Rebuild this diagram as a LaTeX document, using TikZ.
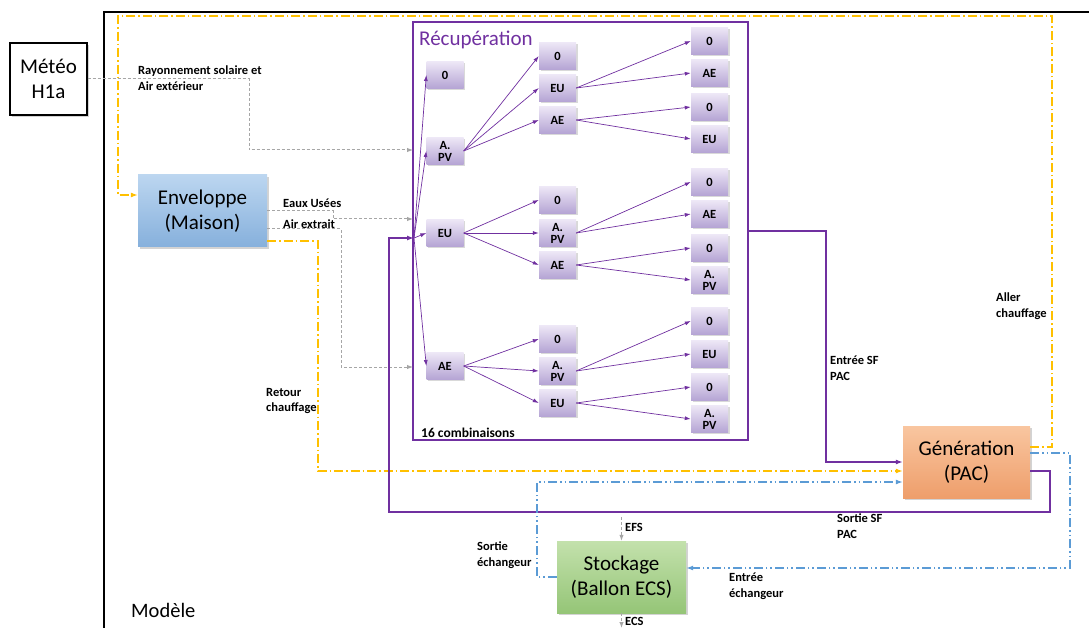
\documentclass[tikz,border=0pt]{standalone}
\usepackage{fontspec}
\setmainfont{Carlito}
\usetikzlibrary{arrows.meta,shadows,calc}
\definecolor{purp}{HTML}{7030A0}
\definecolor{goldl}{HTML}{FFC000}
\definecolor{bluel}{HTML}{5B9BD5}
\definecolor{grayl}{HTML}{A6A6A6}
\definecolor{envtop}{HTML}{BCD6F0}
\definecolor{envbot}{HTML}{86B0DC}
\definecolor{gentop}{HTML}{F9C6A0}
\definecolor{genbot}{HTML}{EE9E6B}
\definecolor{sttop}{HTML}{C3E1AC}
\definecolor{stbot}{HTML}{95C577}
\definecolor{smtop}{HTML}{EDE7F6}
\definecolor{smbot}{HTML}{B5A4D4}
\tikzset{
  bigbox/.style={minimum width=129pt, minimum height=72pt, inner sep=0pt, align=center,
    font=\fontsize{21}{25}\selectfont, shading=axis, shading angle=0,
    drop shadow={shadow xshift=2pt, shadow yshift=-2pt, opacity=0.35}},
  smbox/.style={minimum width=37pt, minimum height=27pt, inner sep=0pt, align=center,
    font=\bfseries\fontsize{12.5}{12}\selectfont, top color=smtop, bottom color=smbot,
    drop shadow={shadow xshift=1.5pt, shadow yshift=-1.5pt, opacity=0.3}},
  lbl/.style={font=\bfseries\fontsize{12.5}{15.5}\selectfont, align=left, inner sep=0pt},
  pa/.style={draw=purp, line width=0.7pt, -{Latex[length=6pt,width=4pt]}},
  pline/.style={draw=purp, line width=1.3pt, -{Latex[length=7pt,width=5pt]}},
  gline/.style={draw=grayl, line width=1pt, dash pattern=on 3pt off 2pt, -{Latex[length=6pt,width=4.5pt]}},
  yline/.style={draw=goldl, line width=1.3pt, dash pattern=on 9pt off 3pt on 1.5pt off 3pt, -{Latex[length=7pt,width=5pt]}},
  bline/.style={draw=bluel, line width=1.3pt, dash pattern=on 9pt off 3pt on 1.5pt off 3pt on 1.5pt off 3pt, -{Latex[length=7pt,width=5pt]}},
}
\begin{document}
\begin{tikzpicture}[x=1pt,y=-1pt]
\useasboundingbox (0,0) rectangle (1089,628);
% outer model frame
\draw[line width=1.5pt] (104,628) -- (104,12) -- (1089,12);
\node[anchor=west, font=\fontsize{20.5}{24}\selectfont, inner sep=0pt] (modele) at (131,610) {Modèle};

% main blocks
\node[bigbox, minimum width=77pt, draw=black, line width=1.3pt, top color=white, bottom color=white] (met) at (48.5,79) {Météo\\H1a};
\node[bigbox, top color=envtop, bottom color=envbot] (env) at (202.5,211) {Enveloppe\\(Maison)};
\node[bigbox, minimum width=127pt, top color=gentop, bottom color=genbot] (gen) at (966.5,462) {Génération\\(PAC)};
\node[bigbox, top color=sttop, bottom color=stbot] (stock) at (621.5,577) {Stockage\\(Ballon ECS)};

% Récupération frame
\node[draw=purp, line width=1.5pt, minimum width=335pt, minimum height=418pt, inner sep=0pt] (recup) at (580.5,231) {};
\node[anchor=west, text=purp, font=\fontsize{21}{25}\selectfont, inner sep=0pt] (rtitle) at (419,40) {Récupération};
\node[anchor=west, font=\bfseries\fontsize{13.5}{16}\selectfont, inner sep=0pt] (comb) at (421,433) {16 combinaisons};

% level 1
\node[smbox] (n0) at (445,75) {0};
\node[smbox] (npv) at (445,151) {A.\\PV};
\node[smbox] (neu) at (445,233) {EU};
\node[smbox] (nae) at (445,366) {AE};
% level 2
\node[smbox] (a0) at (557.5,56) {0};
\node[smbox] (aeu) at (557.5,88) {EU};
\node[smbox] (aae) at (557.5,120) {AE};
\node[smbox] (b0) at (557.5,200) {0};
\node[smbox] (bpv) at (557.5,233) {A.\\PV};
\node[smbox] (bae) at (557.5,265) {AE};
\node[smbox] (c0) at (557.5,339) {0};
\node[smbox] (cpv) at (557.5,371) {A.\\PV};
\node[smbox] (ceu) at (557.5,403) {EU};
% level 3
\node[smbox] (d1) at (709.5,41) {0};
\node[smbox] (d2) at (709.5,73) {AE};
\node[smbox] (d3) at (709.5,107) {0};
\node[smbox] (d4) at (709.5,139) {EU};
\node[smbox] (e1) at (709.5,182) {0};
\node[smbox] (e2) at (709.5,214) {AE};
\node[smbox] (e3) at (709.5,248) {0};
\node[smbox] (e4) at (709.5,280) {A.\\PV};
\node[smbox] (f1) at (709.5,321) {0};
\node[smbox] (f2) at (709.5,354) {EU};
\node[smbox] (f3) at (709.5,387) {0};
\node[smbox] (f4) at (709.5,419) {A.\\PV};

% fan
\coordinate (fan) at (414,238);
\foreach \t in {n0,npv,neu,nae} \draw[pa] (fan) -- (\t.west);
\foreach \s/\t in {npv/a0,npv/aeu,npv/aae,neu/b0,neu/bpv,neu/bae,nae/c0,nae/cpv,nae/ceu,
  aeu/d1,aeu/d2,aae/d3,aae/d4,bpv/e1,bpv/e2,bae/e3,bae/e4,cpv/f1,cpv/f2,ceu/f3,ceu/f4}
  \draw[pa] (\s.east) -- (\t.west);

% gray inputs
\coordinate (rin1) at (413,150);
\coordinate (rin2) at (413,219);
\coordinate (rin3) at (413,367);
\draw[gline] (met.east) -| (249,150) -- (rin1);
\draw[gline] (env.east) -- (333,211) -- (333,219) -- (rin2);
\draw[gline] ($(env.east)+(0,18)$) -- (341,229) -- (341,367) -- (rin3);
\coordinate (efs) at (621.5,517);
\coordinate (ecs) at (621.5,628);
\draw[gline] (efs) -- (stock.north);
\draw[gline] (stock.south) -- (ecs);

% heating loop (gold)
\draw[yline] ($(gen.east)+(0,-15)$) -- (1052,447) -- (1052,16) -- (118,16) -- (118,195) -- ($(env.west)+(0,-16)$);
\draw[yline] ($(env.east)+(0,30)$) -- (318,241) -- (318,471) -- ($(gen.west)+(0,9)$);

% purple SF loop
\draw[pline] (recup.east) -- (826,231) -- (826,462) -- (gen.west);
\draw[pline] ($(gen.east)+(0,9)$) -- (1050,471) -- (1050,512) -- (389,512) -- (389,238) -- (fan);

% blue exchanger loop
\draw[bline] ($(gen.east)+(0,-9)$) -- (1070,453) -- (1070,568) -- ($(stock.east)+(0,-9)$);
\draw[bline] (stock.west) -- (537,577) -- (537,482) -- ($(gen.west)+(0,20)$);

% labels
\node[lbl, anchor=north west] (l1) at (138,66) {Rayonnement solaire et\\Air extérieur};
\node[lbl, anchor=west] (l2) at (283,203) {Eaux Usées};
\node[lbl, anchor=west] (l3) at (283,224) {Air extrait};
\node[lbl, anchor=north west] (l4) at (266,388) {Retour\\chauffage};
\node[lbl, anchor=north west] (l5) at (830,356) {Entrée SF\\PAC};
\node[lbl, anchor=north west] (l6) at (996,293) {Aller\\chauffage};
\node[lbl, anchor=north west] (l7) at (837,514) {Sortie SF\\PAC};
\node[lbl, anchor=north west] (l8) at (477,542) {Sortie\\échangeur};
\node[lbl, anchor=north west] (l9) at (729,573) {Entrée\\échangeur};
\node[lbl, anchor=west] (l10) at (625,527) {EFS};
\node[lbl, anchor=west] (l11) at (625,621) {ECS};
\end{tikzpicture}
\end{document}
